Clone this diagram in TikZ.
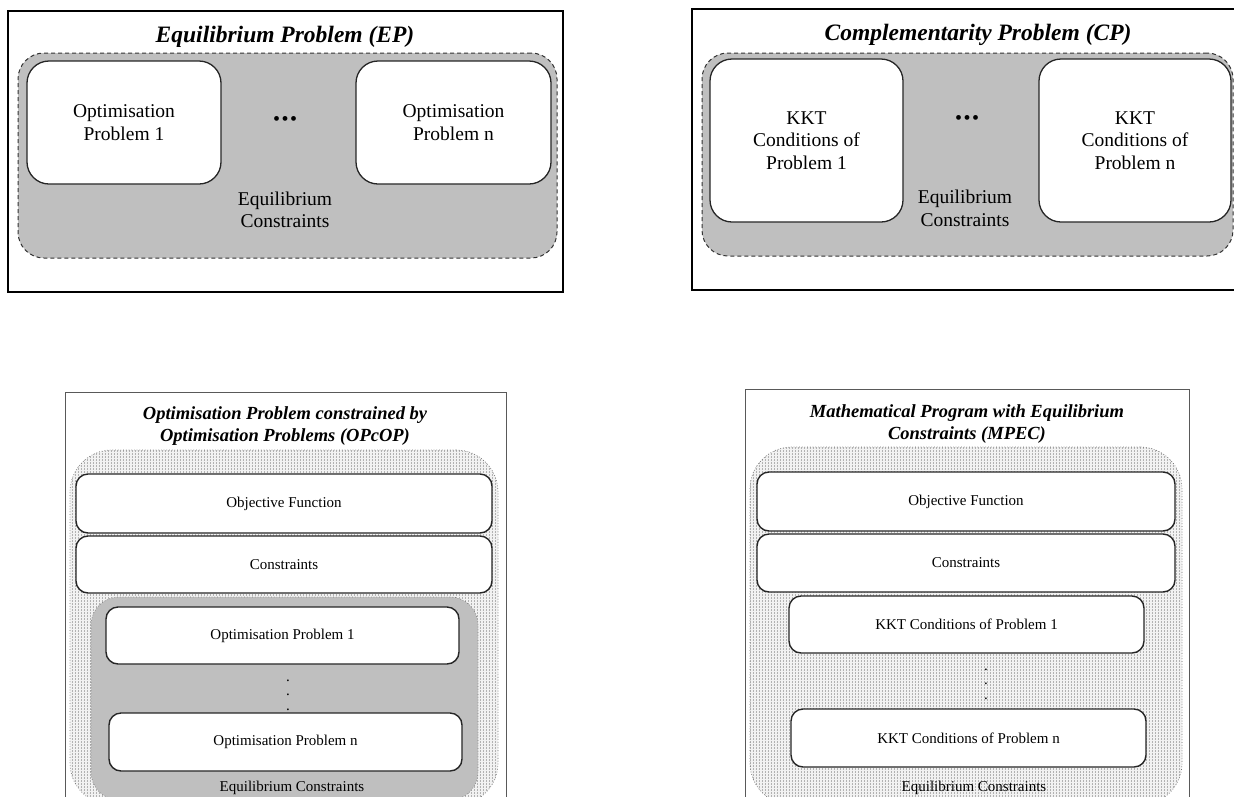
\documentclass[tikz,border=0pt]{standalone}
\usepackage{fontspec}
\setmainfont{Liberation Serif}
\usetikzlibrary{patterns}

\tikzset{
  frameA/.style={draw=black, line width=1.8pt, fill=white, rectangle, inner sep=0pt},
  frameB/.style={draw=black!65, line width=1pt, fill=white, rectangle, inner sep=0pt},
  eqzone/.style={draw=black!80, fill=black!25, line width=1pt, dash pattern=on 4pt off 3pt,
                 rectangle, rounded corners=26pt, inner sep=0pt},
  gridzone/.style={draw=black!55, line width=0.7pt, dotted, rectangle, rounded corners=42pt,
                   inner sep=0pt, preaction={fill=black!5}, pattern=grid, pattern color=black!30},
  innerzone/.style={draw=black!50, line width=0.7pt, dotted, fill=black!25, rectangle,
                    rounded corners=28pt, inner sep=0pt},
  bigbox/.style={draw=black!85, fill=white, line width=1.3pt, rectangle, rounded corners=22pt,
                 inner sep=0pt, align=center, font=\fontsize{19.5}{22.5}\selectfont},
  rowbox/.style={draw=black!85, fill=white, line width=1.4pt, rectangle, rounded corners=12pt,
                 inner sep=0pt, align=center, font=\fontsize{15}{18}\selectfont},
  toptitle/.style={font=\fontsize{23.5}{27}\selectfont\bfseries\itshape},
  bottitle/.style={align=center, font=\fontsize{18.5}{21.5}\selectfont\bfseries\itshape},
  toplabel/.style={align=center, font=\fontsize{19.5}{22.5}\selectfont},
  hdots/.style={font=\fontsize{20}{20}\selectfont, inner sep=0pt},
  botlabel/.style={align=center, font=\fontsize{15}{18}\selectfont},
  vdots/.style={align=center, font=\fontsize{15}{14.5}\selectfont},
}

\newcommand{\threebullets}{\textbullet\hspace{1.5pt}\textbullet\hspace{1.5pt}\textbullet}

\begin{document}
\begin{tikzpicture}[x=1pt, y=-1pt]
\useasboundingbox (0,0) rectangle (1234,796);
\clip (0,0) rectangle (1234,796);

% ---------------- Equilibrium Problem ----------------
\node[frameA, minimum width=555pt, minimum height=281pt] (epframe) at (285.5,151.5) {};
\node[toptitle] (eptitle) at (285,37) {Equilibrium Problem (EP)};
\node[eqzone, minimum width=539pt, minimum height=205pt] (epzone) at (287.5,155.5) {};
\node[bigbox, minimum width=194pt, minimum height=123pt] (epone) at (124,122.5) {Optimisation\\Problem 1};
\node[bigbox, minimum width=195pt, minimum height=123pt] (epn) at (453.5,122.5) {Optimisation\\Problem n};
\node[hdots] (epdots) at (285,121) {\threebullets};
\node[toplabel] (epeq) at (285,210) {Equilibrium\\Constraints};

% ---------------- Complementarity Problem ----------------
\node[frameA, minimum width=553pt, minimum height=281pt] (cpframe) at (968.5,149.5) {};
\node[toptitle] (cptitle) at (978,35) {Complementarity Problem (CP)};
\node[eqzone, minimum width=531pt, minimum height=203pt] (cpzone) at (967.5,154.5) {};
\node[bigbox, minimum width=193pt, minimum height=163pt] (cpone) at (806.5,140.5) {KKT\\Conditions of\\Problem 1};
\node[bigbox, minimum width=192pt, minimum height=163pt] (cpn) at (1135,140.5) {KKT\\Conditions of\\Problem n};
\node[hdots] (cpdots) at (967,120) {\threebullets};
\node[toplabel] (cpeq) at (965,208.5) {Equilibrium\\Constraints};

% ---------------- OPcOP ----------------
\node[frameB, minimum width=441pt, minimum height=438pt] (opframe) at (285.5,611) {};
\node[bottitle] (optitle) at (285,426) {Optimisation Problem constrained by\\Optimisation Problems (OPcOP)};
\node[gridzone, minimum width=428pt, minimum height=355pt] (opzone) at (284,627.5) {};
\node[rowbox, minimum width=416pt, minimum height=59pt] (opobj) at (284,503.5) {Objective Function};
\node[rowbox, minimum width=416pt, minimum height=57pt] (opcon) at (284,564.5) {Constraints};
\node[innerzone, minimum width=387pt, minimum height=203pt] (opinner) at (284.5,698.5) {};
\node[rowbox, minimum width=353pt, minimum height=57pt] (opone) at (282.5,635.5) {Optimisation Problem 1};
\node[rowbox, minimum width=353pt, minimum height=58pt] (opn) at (285.5,742) {Optimisation Problem n};
\node[vdots] (opdots) at (288,695) {.\\.\\.};
\node[botlabel] (opeq) at (292,788) {Equilibrium Constraints};

% ---------------- MPEC ----------------
\node[frameB, minimum width=444pt, minimum height=441pt] (mpframe) at (967,609.5) {};
\node[bottitle] (mptitle) at (967,424) {Mathematical Program with Equilibrium\\Constraints (MPEC)};
\node[gridzone, minimum width=432pt, minimum height=358pt] (mpzone) at (966,626) {};
\node[rowbox, minimum width=418pt, minimum height=59pt] (mpobj) at (966,501.5) {Objective Function};
\node[rowbox, minimum width=418pt, minimum height=58pt] (mpcon) at (966,563) {Constraints};
\node[rowbox, minimum width=355pt, minimum height=57pt] (mpone) at (966.5,624.5) {KKT Conditions of Problem 1};
\node[rowbox, minimum width=355pt, minimum height=58pt] (mpn) at (968.5,738) {KKT Conditions of Problem n};
\node[vdots] (mpdots) at (986,684) {.\\.\\.};
\node[botlabel] (mpeq) at (974,788) {Equilibrium Constraints};
\end{tikzpicture}
\end{document}
